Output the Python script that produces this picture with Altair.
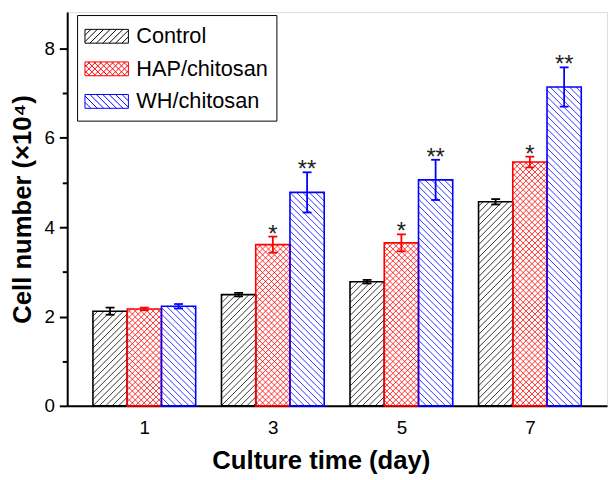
import altair as alt
import pandas as pd

# ---------------- data ----------------
days = [1, 3, 5, 7]
groups = ["Control", "HAP/chitosan", "WH/chitosan"]
colors = ["#000000", "#FF0000", "#0000FF"]
control_mean = [2.12, 2.49, 2.78, 4.57]
control_err = [0.08, 0.04, 0.04, 0.06]
hap_mean = [2.17, 3.61, 3.65, 5.46]
hap_err = [0.03, 0.18, 0.19, 0.12]
wh_mean = [2.23, 4.78, 5.06, 7.14]
wh_err = [0.05, 0.45, 0.45, 0.44]
hap_sig = ["", "*", "*", "*"]
wh_sig = ["", "**", "**", "**"]

# ---------------- layout / style ----------------
W, H = 547, 399
X_DOM = [-0.2, 8.2]
Y_MAX = 399 / 45.25
KX = W / (X_DOM[1] - X_DOM[0])   # px per x unit
KY = H / Y_MAX                   # px per y unit
BAR_PX = 34.7
BW = BAR_PX / KX
CAP = 4.5 / KX
FONT = "Liberation Sans"

means = [control_mean, hap_mean, wh_mean]
errs = [control_err, hap_err, wh_err]
sigs = [[""] * 4, hap_sig, wh_sig]
hatch_dirs = [[1], [1, -1], [-1]]
hatch_space = [6.5, 6.0, 6.5]

bars, hatch, stars = [], [], []
for gi, g in enumerate(groups):
    for di, d in enumerate(days):
        c = d + (gi - 1) * BW
        m, e = means[gi][di], errs[gi][di]
        bars.append(dict(group=g, x0=c - BW / 2, x1=c + BW / 2, cx=c,
                         cl=c - CAP, cr=c + CAP, mean=m, lo=m - e, hi=m + e,
                         base=0.0))
        if sigs[gi][di]:
            stars.append(dict(group=g, cx=c, hi=m + e, sig=sigs[gi][di]))
        # hatch segments computed in pixel space, converted back to data units
        p0 = (c - BW / 2 - X_DOM[0]) * KX
        p1 = (c + BW / 2 - X_DOM[0]) * KX
        hp = m * KY
        sp = hatch_space[gi]
        for dr in hatch_dirs[gi]:
            if dr == 1:
                k0 = int((p0 - hp) // sp) - 1
                k1 = int(p1 // sp) + 1
            else:
                k0 = int(p0 // sp) - 1
                k1 = int((p1 + hp) // sp) + 1
            for k in range(k0, k1 + 1):
                cc = k * sp + (sp / 2 if gi == 1 else 0)
                if dr == 1:
                    ua, ub = max(p0, cc), min(p1, cc + hp)
                    wa, wb = ua - cc, ub - cc
                else:
                    ua, ub = max(p0, cc - hp), min(p1, cc)
                    wa, wb = cc - ua, cc - ub
                if ub - ua < 0.4:
                    continue
                hatch.append(dict(group=g,
                                  hx0=X_DOM[0] + ua / KX, hx1=X_DOM[0] + ub / KX,
                                  hy0=wa / KY, hy1=wb / KY))

bars_df = pd.DataFrame(bars)
hatch_df = pd.DataFrame(hatch)
stars_df = pd.DataFrame(stars)
legend_df = pd.DataFrame({"group": groups})

# legend symbol: 44x14 px rectangle with hatch; path units scaled by sqrt(size)/2
SYM_SIZE = 26 * 26
SR = 13.0                       # px per path unit
LX0, LX1 = -13.5 / SR, 30.5 / SR
LR = 7 / SR


def legend_path(dirs, sp_px):
    parts = [f"M{LX0:.3f},{-LR:.3f}L{LX1:.3f},{-LR:.3f}L{LX1:.3f},{LR:.3f}L{LX0:.3f},{LR:.3f}Z"]
    sp = sp_px / SR
    for dr in dirs:
        k = LX0 - 2 * LR
        while k <= LX1 + 2 * LR:
            xa, xb = max(LX0, k - LR), min(LX1, k + LR)
            if xb - xa > 0.02:
                if dr == 1:   # '/' in svg coords: y = k - x
                    parts.append(f"M{xa:.3f},{k - xa:.3f}L{xb:.3f},{k - xb:.3f}")
                else:         # '\' : y = x - k
                    parts.append(f"M{xa:.3f},{xa - k:.3f}L{xb:.3f},{xb - k:.3f}")
            k += sp
    return "".join(parts)


paths = [legend_path([1], 6.5), legend_path([1, -1], 6.0), legend_path([-1], 6.5)]

xscale = alt.Scale(domain=X_DOM, nice=False, zero=False)
yscale = alt.Scale(domain=[0, Y_MAX], nice=False)
cscale = alt.Scale(domain=groups, range=colors)

xaxis = alt.Axis(values=days, ticks=False, grid=False, labelFontSize=19,
                 labelPadding=13, labelColor="black", title="Culture time (day)",
                 titleFontSize=26, titleFontWeight="bold", titlePadding=11,
                 titleX=257, titleColor="black", domainWidth=2, domainColor="black")
yaxis = alt.Axis(values=list(range(0, 9)), grid=False, labelFontSize=19,
                 labelExpr="datum.value % 2 == 0 ? datum.label : ''",
                 tickSize={"condition": {"test": "datum.value % 2 == 1", "value": 5}, "value": 8},
                 tickWidth=2, tickColor="black", labelPadding=5, labelColor="black",
                 title="Cell number (×10⁴)", titleFontSize=26, titleFontWeight="bold",
                 titlePadding=9, titleColor="black", domainWidth=2, domainColor="black")

X = lambda f: alt.X(f"{f}:Q", scale=xscale, axis=xaxis)
Y = lambda f: alt.Y(f"{f}:Q", scale=yscale, axis=yaxis)
S = alt.Stroke("group:N", scale=cscale, legend=None)

hatch_layer = alt.Chart(hatch_df).mark_rule(strokeWidth=0.8).encode(
    x=X("hx0"), x2="hx1", y=Y("hy0"), y2="hy1", stroke=S)

outline = alt.Chart(bars_df).mark_rect(fillOpacity=0, strokeWidth=1.6).encode(
    x=X("x0"), x2="x1", y=Y("mean"), y2="base", stroke=S)

err_v = alt.Chart(bars_df).mark_rule(strokeWidth=1.8).encode(
    x=X("cx"), y=Y("lo"), y2="hi", stroke=S)
cap_hi = alt.Chart(bars_df).mark_rule(strokeWidth=1.8).encode(
    x=X("cl"), x2="cr", y=Y("hi"), stroke=S)
cap_lo = alt.Chart(bars_df).mark_rule(strokeWidth=1.8).encode(
    x=X("cl"), x2="cr", y=Y("lo"), stroke=S)

star_layer = alt.Chart(stars_df).mark_text(
    font=FONT, fontSize=24, color="#222222", baseline="alphabetic", dy=5).encode(
    x=X("cx"), y=Y("hi"), text="sig:N")

leg = alt.Legend(title=None, orient="none", legendX=10, legendY=3,
                 labelFont=FONT, labelFontSize=22, labelColor="black",
                 symbolSize=SYM_SIZE, symbolStrokeWidth=1, labelOffset=25,
                 strokeColor="black", fillColor="white", padding=8, rowPadding=8,
                 symbolOpacity=1)
legend_layer = alt.Chart(legend_df).mark_point(filled=False, opacity=0).encode(
    stroke=alt.Stroke("group:N", scale=cscale, legend=leg),
    shape=alt.Shape("group:N", scale=alt.Scale(domain=groups, range=paths), legend=leg),
)

chart = alt.layer(hatch_layer, outline, err_v, cap_hi, cap_lo, star_layer, legend_layer).resolve_scale(
    stroke="independent", shape="independent"
).properties(
    width=W, height=H,
    autosize=alt.AutoSizeParams(type="none"),
    padding={"left": 60, "top": 1, "right": 1, "bottom": 72},
).configure_view(stroke="black", strokeWidth=2).configure(font=FONT)

chart.save("out.html", embed_options={"renderer": "svg", "actions": False})
